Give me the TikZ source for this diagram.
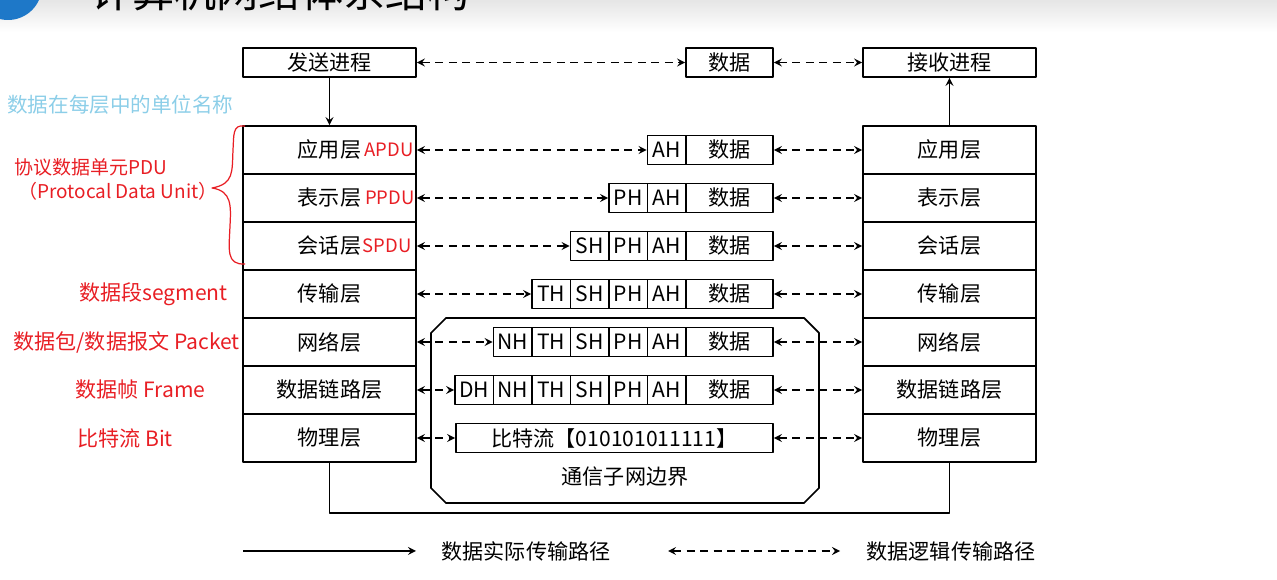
\documentclass[tikz,border=0pt]{standalone}
\usepackage{fontspec}
\setmainfont{Noto Sans CJK SC}
\usetikzlibrary{positioning}
\definecolor{pdured}{RGB}{232,30,36}
\definecolor{unitblue}{RGB}{140,206,232}
\definecolor{logoblue}{RGB}{30,120,200}
\begin{document}
\begin{tikzpicture}[x=.2mm, y=-.2mm, >=stealth, line join=round, font=\fontsize{12}{14}\selectfont]
	\tikzset{
		layer/.style={draw, line width=1pt, minimum width=34.6mm, minimum height=9.6mm, inner sep=0pt},
		proc/.style={layer, minimum height=5.8mm},
		cell/.style={draw, line width=1pt, minimum width=7.7mm, minimum height=5.8mm, inner sep=0pt},
		link/.style={<->, line width=1pt, dash pattern=on 1.6mm off 1.1mm},
		note/.style={pdured, inner sep=0pt},
		pdu/.style={pdured, inner sep=0pt, font=\fontsize{10.5}{12}\selectfont}
	}
	\useasboundingbox (0,0) rectangle (1277,580);
	\begin{scope}
		\clip (0,0) rectangle (1277,580);
		\shade[top color=black!10, bottom color=white] (0,0) rectangle (1277,32);
		\fill[logoblue] (8,-14) circle (34);
		\node[font=\fontsize{24}{28}\selectfont] (title) at (280,-9) {计算机网络体系结构};
	\end{scope}
	\node[proc] (send) at (329.5,62.5) {发送进程};
	\node[proc, minimum width=17.4mm] (data) at (729.5,62.5) {数据};
	\node[proc] (recv) at (949.5,62.5) {接收进程};
	\draw[link] (send.east) -- (data.west);
	\draw[link] (data.east) -- (recv.west);
	\foreach \t [count=\i] in {应用层,表示层,会话层,传输层,网络层,数据链路层,物理层}{
		\node[layer] (L\i) at (329.5,{102+48*\i}) {\t};
		\node[layer] (R\i) at (949.5,{102+48*\i}) {\t};
	}
	\draw[->, line width=1pt] (send.south) -- (L1.north);
	\draw[->, line width=1pt] (R1.north) -- (recv.south);
	\draw[line width=1pt] (L7.south) -- ++(0,50) -| (R7.south);
	\node[pdu, anchor=east] (apdu) at ([xshift=-.6mm]L1.east) {APDU};
	\node[pdu, anchor=east] (ppdu) at ([xshift=-.4mm]L2.east) {PPDU};
	\node[pdu, anchor=east] (spdu) at ([xshift=-1mm]L3.east) {SPDU};
	\draw[line width=1pt] (446,318) -- (804,318) -- (819,333) -- (819,488) -- (804,503)
		-- (446,503) -- (431,488) -- (431,333) -- cycle;
	\node (subnet) at (625,477) {通信子网边界};
	\foreach \i in {1,...,6}{
		\node[cell, minimum width=17.4mm] (D\i) at (729.5,{102+48*\i}) {数据};
		\foreach \h [count=\j] in {AH,PH,SH,TH,NH,DH}{
			\ifnum\j>\i\relax\else
				\node[cell] (H\i\j) at ({686-38.5*(\j-.5)},{102+48*\i}) {\h};
			\fi
		}
		\draw[link] (L\i.east) -- (H\i\i.west);
		\draw[link] (D\i.east) -- (R\i.west);
	}
	\node[cell, minimum width=63.4mm] (bits) at (614.5,438) {比特流【010101011111】};
	\draw[link] (L7.east) -- (bits.west);
	\draw[link] (bits.east) -- (R7.west);
	\node[unitblue, anchor=west, inner sep=0pt, font=\fontsize{11.7}{14}\selectfont] (unitname) at (7,105) {数据在每层中的单位名称};
	\node[note, anchor=west, font=\fontsize{10.8}{13}\selectfont] (pduname) at (14,167) {协议数据单元PDU};
	\node[note, anchor=west, font=\fontsize{10.8}{13}\selectfont] (pdufull) at (18,191) {（Protocal Data Unit）};
	\node[note, anchor=east] (seg) at (228,294) {数据段segment};
	\node[note, anchor=east] (pkt) at (240,342) {数据包/数据报文 Packet};
	\node[note, anchor=west] (frm) at (75,390) {数据帧 Frame};
	\node[note, anchor=west] (bit) at (77,438) {比特流 Bit};
	\draw[pdured, line width=.7pt] (245,126) .. controls (232,124) and (234,136) .. (233,150)
		.. controls (232,172) and (234,184) .. (212,188)
		.. controls (232,191) and (231,206) .. (230,226)
		.. controls (229,250) and (226,265) .. (245,264);
	\coordinate (real1) at (243,551);
	\coordinate (real2) at (416,551);
	\draw[->, line width=1pt] (real1) -- (real2);
	\node (realtxt) at (526,551) {数据实际传输路径};
	\coordinate (logic1) at (668,551);
	\coordinate (logic2) at (840,551);
	\draw[link] (logic1) -- (logic2);
	\node (logictxt) at (951,551) {数据逻辑传输路径};
\end{tikzpicture}
\end{document}
